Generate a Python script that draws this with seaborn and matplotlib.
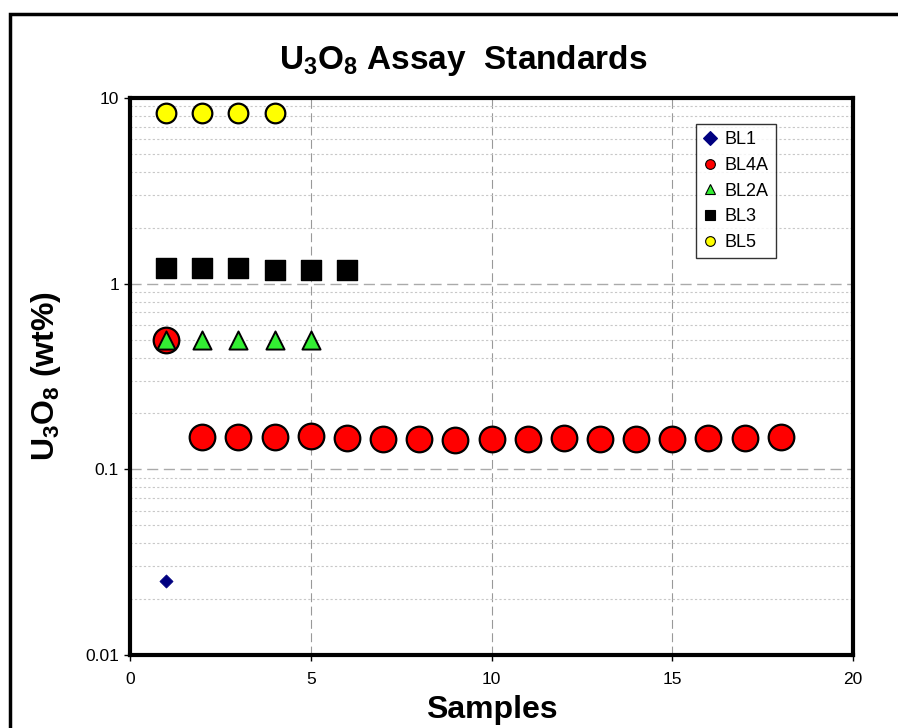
#!/usr/bin/env python3
import numpy as np
import pandas as pd
import matplotlib
matplotlib.use('Agg')
import matplotlib.pyplot as plt
from matplotlib.lines import Line2D
from matplotlib.patches import Rectangle
from matplotlib.ticker import FixedLocator, FixedFormatter, LogLocator, NullFormatter
import seaborn as sns

# U3O8 assay standards
bl1_x = [1]
bl1_y = [0.025]
bl4a_x = [1, 2, 3, 4, 5, 6, 7, 8, 9, 10, 11, 12, 13, 14, 15, 16, 17, 18]
bl4a_y = [0.50, 0.150, 0.150, 0.150, 0.151, 0.148, 0.146, 0.146, 0.144, 0.146,
          0.146, 0.148, 0.146, 0.146, 0.146, 0.148, 0.148, 0.150]
bl2a_x = [1, 2, 3, 4, 5]
bl2a_y = [0.50, 0.50, 0.50, 0.50, 0.50]
bl3_x = [1, 2, 3, 4, 5, 6]
bl3_y = [1.22, 1.22, 1.21, 1.19, 1.19, 1.19]
bl5_x = [1, 2, 3, 4]
bl5_y = [8.3, 8.3, 8.3, 8.3]

sns.set_style('white')
plt.rcParams['font.family'] = ['Liberation Sans', 'DejaVu Sans']
plt.rcParams['mathtext.fontset'] = 'custom'
plt.rcParams['mathtext.bf'] = 'Liberation Sans:bold'
plt.rcParams['mathtext.rm'] = 'Liberation Sans'
plt.rcParams['text.color'] = 'black'
plt.rcParams['axes.labelcolor'] = 'black'
plt.rcParams['xtick.color'] = 'black'
plt.rcParams['ytick.color'] = 'black'

fig = plt.figure(figsize=(8.98, 7.28), dpi=100)
ax = fig.add_axes([130/898, 1-655/728, (853-130)/898, (655-98)/728])

series = [
    ('BL1', bl1_x, bl1_y, 'D', '#000080', '#000080', 45, 0.5),
    ('BL4A', bl4a_x, bl4a_y, 'o', '#FF0000', 'black', 340, 1.6),
    ('BL2A', bl2a_x, bl2a_y, '^', '#33EE33', 'black', 170, 1.4),
    ('BL3', bl3_x, bl3_y, 's', 'black', 'black', 190, 1.0),
    ('BL5', bl5_x, bl5_y, 'o', '#FFFF00', 'black', 200, 1.6),
]
handles = []
for name, xs, ys, mk, fc, ec, size, lw in series:
    df = pd.DataFrame({'Samples': xs, 'U3O8': ys})
    sns.scatterplot(data=df, x='Samples', y='U3O8', marker=mk, s=size,
                    color=fc, edgecolor=ec, linewidth=lw, ax=ax, zorder=3)
    handles.append(Line2D([], [], linestyle='none', marker=mk, markersize=7,
                          markerfacecolor=fc, markeredgecolor=ec, markeredgewidth=0.8,
                          label=name))

ax.set_yscale('log')
ax.set_ylim(0.01, 10)
ax.set_xlim(0, 20)
ax.yaxis.set_major_locator(FixedLocator([0.01, 0.1, 1, 10]))
ax.yaxis.set_major_formatter(FixedFormatter(['0.01', '0.1', '1', '10']))
ax.yaxis.set_minor_locator(LogLocator(base=10, subs=np.arange(2, 10)))
ax.yaxis.set_minor_formatter(NullFormatter())
ax.set_xticks([0, 5, 10, 15, 20])

ax.grid(True, which='major', axis='y', color='#AAAAAA', linestyle=(0, (8, 4)), linewidth=1.0)
ax.grid(True, which='minor', axis='y', color='#C8C8C8', linestyle=(0, (2, 2)), linewidth=0.8)
ax.grid(True, which='major', axis='x', color='#999999', linestyle=(0, (8, 4)), linewidth=0.8)
ax.set_axisbelow(True)

for sp in ax.spines.values():
    sp.set_linewidth(3)
    sp.set_color('black')
ax.tick_params(axis='both', which='major', direction='out', length=4, width=1,
               labelsize=12.5, color='black', bottom=True, left=True, pad=4)
ax.tick_params(axis='x', which='major', pad=8)
ax.tick_params(axis='y', which='minor', length=0, left=False)

ax.set_xlabel('Samples', fontsize=23, fontweight='bold', labelpad=6)
ax.set_ylabel(r'$\mathbf{U_3O_8}$ (wt%)', fontsize=23, fontweight='bold', labelpad=16)
fig.text(463/898, 1-60/728, r'$\mathbf{U_3O_8}$ Assay  Standards', fontsize=24,
         fontweight='bold', ha='center', va='center')

leg = ax.legend(handles=handles, loc='upper left', bbox_to_anchor=(566/723, 1-26/557),
                fontsize=13, frameon=True, fancybox=False, handlelength=0.8,
                handletextpad=0.4, labelspacing=0.48, borderpad=0.4, borderaxespad=0)
leg.get_frame().set_edgecolor('black')
leg.get_frame().set_linewidth(1.0)

# outer chart-area border (cropped on the right and bottom)
fig.patches.append(Rectangle((10/898, -0.1), 2.0, 1.1 - 14/728,
                             transform=fig.transFigure, fill=False,
                             edgecolor='black', linewidth=2.5))

fig.savefig('out.png', dpi=100)
plt.close(fig)
